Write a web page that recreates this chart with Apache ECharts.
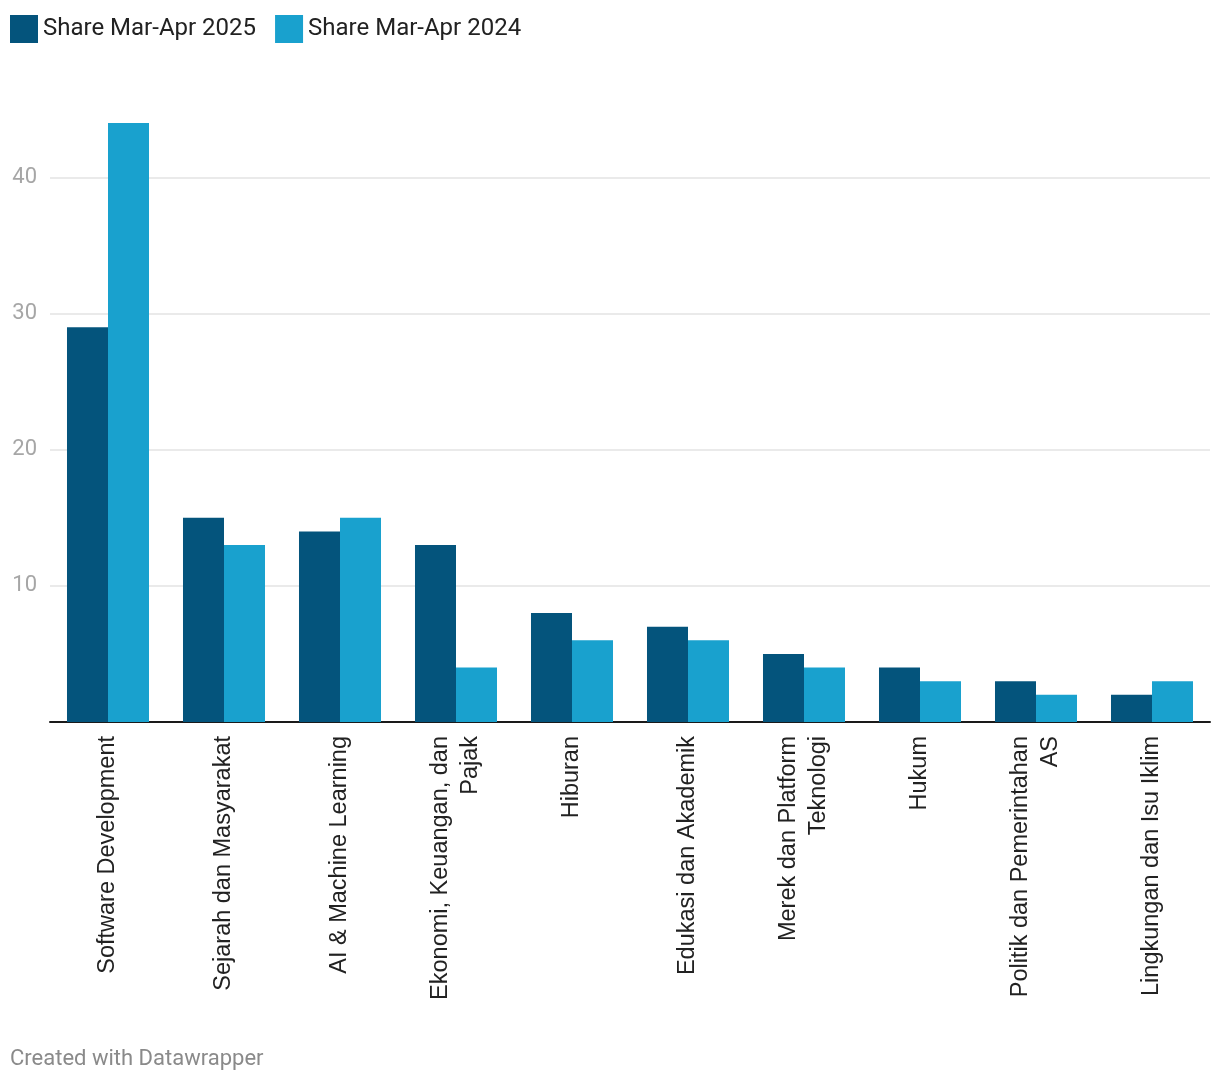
<!DOCTYPE html>
<html>
<head>
<meta charset="utf-8">
<script src="https://cdn.jsdelivr.net/npm/echarts@6/dist/echarts.min.js"></script>
<style>
html,body{margin:0;padding:0;background:#fff;}
#chart{width:1220px;height:1084px;}
</style>
</head>
<body>
<div id="chart"></div>
<script>
const categories = [
  "Software Development",
  "Sejarah dan Masyarakat",
  "AI & Machine Learning",
  "Ekonomi, Keuangan, dan\nPajak",
  "Hiburan",
  "Edukasi dan Akademik",
  "Merek dan Platform\nTeknologi",
  "Hukum",
  "Politik dan Pemerintahan\nAS",
  "Lingkungan dan Isu Iklim"
];
const seriesNames = ["Share Mar-Apr 2025", "Share Mar-Apr 2024"];
const share2025 = [29, 15, 14, 13, 8, 7, 5, 4, 3, 2];
const share2024 = [44, 13, 15, 4, 6, 6, 4, 3, 2, 3];
const footerText = "Created with Datawrapper";

const chart = echarts.init(document.getElementById('chart'), null, {renderer: 'canvas'});
chart.setOption({
  backgroundColor: '#ffffff',
  animation: false,
  legend: {
    left: 10,
    top: 15,
    padding: 0,
    itemWidth: 28,
    itemHeight: 28,
    itemGap: 19,
    icon: 'rect',
    textStyle: {fontFamily: 'Roboto', fontSize: 24, color: '#222', padding: [3, 0, 0, 0]},
    data: seriesNames
  },
  graphic: [{
    type: 'text',
    left: 10,
    top: 1048,
    style: {text: footerText, fontFamily: 'Roboto', fontSize: 22, fill: '#8a8a8a'}
  }],
  grid: {left: 50, right: 10, top: 123, bottom: 362, containLabel: false},
  xAxis: {
    type: 'category',
    data: categories,
    axisLine: {show: true, lineStyle: {color: '#1a1a1a', width: 2}},
    axisTick: {show: false},
    axisLabel: {
      rotate: 90,
      interval: 0,
      margin: 14,
      fontFamily: 'Liberation Sans',
      fontSize: 23.5,
      lineHeight: 30,
      color: '#222'
    }
  },
  yAxis: {
    type: 'value',
    min: 0,
    max: 44,
    interval: 10,
    axisLine: {show: false},
    axisTick: {show: false},
    axisLabel: {
      showMaxLabel: false,
      showMinLabel: false,
      margin: 13,
      padding: [4, 0, 0, 0],
      fontFamily: 'Roboto',
      fontSize: 22,
      color: '#a6a6a6'
    },
    splitLine: {show: true, showMaxLine: false, showMinLine: false, lineStyle: {color: '#e3e3e3', width: 1.5}}
  },
  series: [
    {
      name: seriesNames[0],
      type: 'bar',
      data: share2025,
      barGap: '0%',
      barCategoryGap: '29.3%',
      itemStyle: {color: '#04547c'}
    },
    {
      name: seriesNames[1],
      type: 'bar',
      data: share2024,
      barGap: '0%',
      barCategoryGap: '29.3%',
      itemStyle: {color: '#19a1ce'}
    }
  ]
});
</script>
</body>
</html>
